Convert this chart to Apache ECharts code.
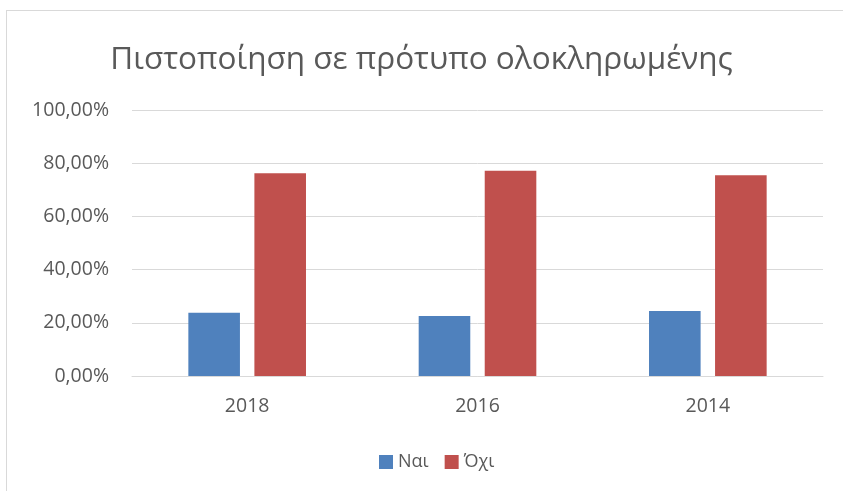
<!DOCTYPE html>
<html>
<head>
<meta charset="utf-8">
<script src="https://cdn.jsdelivr.net/npm/echarts@6/dist/echarts.min.js"></script>
<style>
  html, body { margin: 0; padding: 0; background: #fff; }
  #frame { position: absolute; left: 6px; top: 10px; width: 850px; height: 490px; border: 1px solid #d9d9d9; box-sizing: border-box; }
  #main { width: 843px; height: 491px; position: absolute; left: 0; top: 0; }
</style>
</head>
<body>
<div id="frame"></div>
<div id="main"></div>
<script>
// data
var titleText = 'Πιστοποίηση σε πρότυπο ολοκληρωμένης';
var years = ['2018', '2016', '2014'];
var yesName = 'Ναι';
var noName = 'Όχι';
var yesValues = [23.8, 22.6, 24.4];
var noValues = [76.2, 77.2, 75.5];

var chart = echarts.init(document.getElementById('main'));
var fontFam = '"Open Sans", "Noto Sans", sans-serif';

function pct(v) {
    return v.toFixed(2).replace('.', ',') + '%';
}

var option = {
    backgroundColor: 'transparent',
    title: {
        text: titleText,
        left: 'center',
        top: 39,
        textStyle: { fontFamily: fontFam, fontSize: 31.5, fontWeight: 'normal', color: '#595959' }
    },
    legend: {
        bottom: 15,
        left: 374,
        itemWidth: 14,
        itemHeight: 14,
        itemGap: 16,
        icon: 'rect',
        textStyle: { fontFamily: fontFam, fontSize: 18, color: '#595959' },
        data: [yesName, noName]
    },
    grid: { left: 132, right: 20, top: 110, bottom: 115 },
    xAxis: {
        type: 'category',
        data: years,
        axisTick: { show: false },
        axisLine: { lineStyle: { color: '#d9d9d9', width: 1 } },
        axisLabel: { fontFamily: fontFam, fontSize: 19.5, color: '#595959', margin: 20 }
    },
    yAxis: {
        type: 'value',
        min: 0,
        max: 100,
        interval: 20,
        axisLine: { show: false },
        axisTick: { show: false },
        splitLine: { lineStyle: { color: '#d9d9d9', width: 1 } },
        axisLabel: { fontFamily: fontFam, fontSize: 19.5, color: '#595959', margin: 23, formatter: pct }
    },
    series: [
        {
            name: yesName,
            type: 'bar',
            data: yesValues,
            barWidth: '22.4%',
            barGap: '28%',
            itemStyle: { color: '#4f81bd' }
        },
        {
            name: noName,
            type: 'bar',
            data: noValues,
            barWidth: '22.4%',
            itemStyle: { color: '#c0504d' }
        }
    ]
};

chart.setOption(option);
</script>
</body>
</html>
